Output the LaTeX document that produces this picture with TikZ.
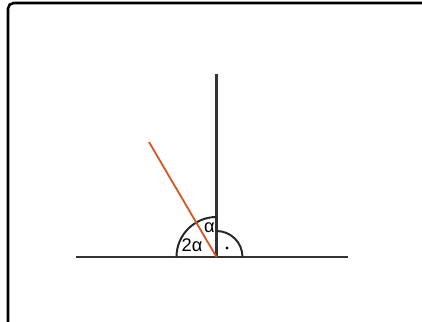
\documentclass[tikz,border=0pt]{standalone}
\usepackage{fontspec}
\setmainfont{Liberation Sans}
\usetikzlibrary{calc}
\definecolor{rayorange}{RGB}{212,88,38}

\begin{document}
\begin{tikzpicture}[x=0.025cm, y=-0.025cm, every node/.style={font=\fontsize{13}{15}\selectfont, inner sep=0pt},
			l/.style={draw=black!80, line width=1.5pt},
			arc/.style={draw=black!85, line width=1.4pt}]
			\useasboundingbox (0,0) rectangle (422,322);
			\draw[line width=1.8pt, rounded corners=4pt] (440,3) -- (8,3) -- (8,340);
			\coordinate (o) at (216.5,257);
			\coordinate (w) at (76,257);
			\coordinate (e) at (348,257);
			\coordinate (n) at (216.5,74);
			\coordinate (r) at (149,142);
			\draw[l] (w) -- (e);
			\draw[l] (o) -- (n);
			\draw[arc] ($(o)+(-40,0)$) arc[start angle=180, end angle=270, radius=40];
			\draw[arc] ($(o)+(0,-26)$) arc[start angle=270, end angle=360, radius=26];
			\draw[rayorange, line width=1.3pt] (o) -- (r);
			\fill (227,248) circle (1.6);
			\node (a) at (209.5,228) {α};
			\node (aa) at (192,245) {2α};
		\end{tikzpicture}
\end{document}
